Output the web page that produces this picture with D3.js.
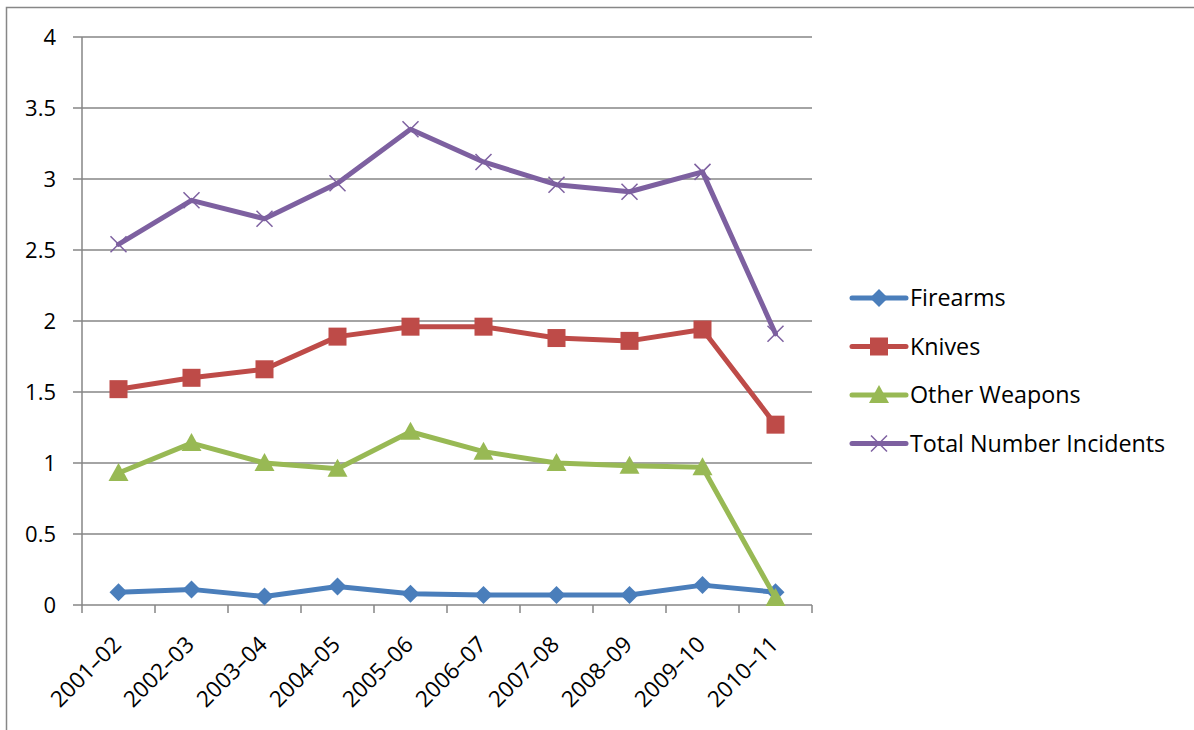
<!DOCTYPE html>
<html>
<head>
<meta charset="utf-8">
<script src="https://cdn.jsdelivr.net/npm/d3@7"></script>
<style>
  body { margin: 0; background: #fff; }
  svg text { font-family: "Open Sans", "Noto Sans", sans-serif; fill: #000; }
</style>
</head>
<body>
<svg id="chart" width="1194" height="730"></svg>
<script>
const years = ["2001–02","2002–03","2003–04","2004–05","2005–06","2006–07","2007–08","2008–09","2009–10","2010–11"];
const firearms = [0.09,0.11,0.06,0.13,0.08,0.07,0.07,0.07,0.14,0.09];
const knives = [1.52,1.60,1.66,1.89,1.96,1.96,1.88,1.86,1.94,1.27];
const otherWeapons = [0.93,1.14,1.00,0.96,1.22,1.08,1.00,0.98,0.97,0.05];
const totalIncidents = [2.54,2.85,2.72,2.97,3.35,3.12,2.96,2.91,3.05,1.91];
const yTicks = [0,0.5,1,1.5,2,2.5,3,3.5,4];

const series = [
  {name: "Firearms", values: firearms, color: "#4A7EBB", marker: "diamond"},
  {name: "Knives", values: knives, color: "#BE4B48", marker: "square"},
  {name: "Other Weapons", values: otherWeapons, color: "#98B954", marker: "triangle"},
  {name: "Total Number Incidents", values: totalIncidents, color: "#7D60A0", marker: "cross"}
];

const svg = d3.select("#chart");
const plotLeft = 82, plotRight = 812, plotTop = 37, plotBottom = 605;

// outer frame
svg.append("rect").attr("x", 6.5).attr("y", 7.5).attr("width", 1200).attr("height", 760)
  .attr("fill", "none").attr("stroke", "#878787").attr("stroke-width", 1.5);

const x = d3.scaleBand().domain(years).range([plotLeft, plotRight]);
const y = d3.scaleLinear().domain([0, 4]).range([plotBottom, plotTop]);

// gridlines
svg.append("g").selectAll("line").data(yTicks).enter().append("line")
  .attr("x1", plotLeft - 9).attr("x2", plotRight)
  .attr("y1", d => y(d)).attr("y2", d => y(d))
  .attr("stroke", "#868686").attr("stroke-width", 1.5);

// y axis
svg.append("line").attr("x1", plotLeft).attr("x2", plotLeft).attr("y1", plotTop).attr("y2", plotBottom)
  .attr("stroke", "#868686").attr("stroke-width", 1.5);
svg.append("g").selectAll("text").data(yTicks).enter().append("text")
  .attr("x", 56).attr("y", d => y(d)).attr("dy", "0.35em")
  .attr("text-anchor", "end").style("font-size", "22px")
  .text(d => d);

// x axis ticks
const xTicks = years.map(d => x(d)).concat([plotRight]);
svg.append("g").selectAll("line").data(xTicks).enter().append("line")
  .attr("x1", d => d).attr("x2", d => d).attr("y1", plotBottom).attr("y2", plotBottom + 8)
  .attr("stroke", "#868686").attr("stroke-width", 1.5);

svg.append("g").selectAll("text").data(years).enter().append("text")
  .attr("transform", d => "translate(" + (x(d) + x.bandwidth() / 2 + 4) + "," + (plotBottom + 41) + ") rotate(-45)")
  .attr("text-anchor", "end").style("font-size", "22.5px")
  .text(d => d);

function drawMarker(g, type, color) {
  if (type === "diamond") {
    g.append("path").attr("d", "M0,-9L9,0L0,9L-9,0Z").attr("fill", color);
  } else if (type === "square") {
    g.append("rect").attr("x", -9).attr("y", -9).attr("width", 18).attr("height", 18).attr("fill", color);
  } else if (type === "triangle") {
    g.append("path").attr("d", "M0,-10L10,8L-10,8Z").attr("fill", color);
  } else {
    g.append("path").attr("d", "M-8,-8L8,8M-8,8L8,-8").attr("stroke", color).attr("stroke-width", 1.5).attr("fill", "none");
  }
}

const line = d3.line().x((d, i) => x(years[i]) + x.bandwidth() / 2).y(d => y(d));

series.forEach(s => {
  svg.append("path").datum(s.values).attr("d", line)
    .attr("fill", "none").attr("stroke", s.color).attr("stroke-width", 5)
    .attr("stroke-linejoin", "round").attr("stroke-linecap", "round");
  s.values.forEach((v, i) => {
    const g = svg.append("g").attr("transform", "translate(" + (x(years[i]) + x.bandwidth() / 2) + "," + y(v) + ")");
    drawMarker(g, s.marker, s.color);
  });
});

// legend
const legend = svg.append("g");
series.forEach((s, i) => {
  const ly = 298 + i * 48.5;
  legend.append("line").attr("x1", 852).attr("x2", 906).attr("y1", ly).attr("y2", ly)
    .attr("stroke", s.color).attr("stroke-width", 5).attr("stroke-linecap", "round");
  drawMarker(legend.append("g").attr("transform", "translate(879," + ly + ")"), s.marker, s.color);
  legend.append("text").attr("x", 910).attr("y", ly).attr("dy", "0.35em")
    .style("font-size", "23.3px").text(s.name);
});
</script>
</body>
</html>
